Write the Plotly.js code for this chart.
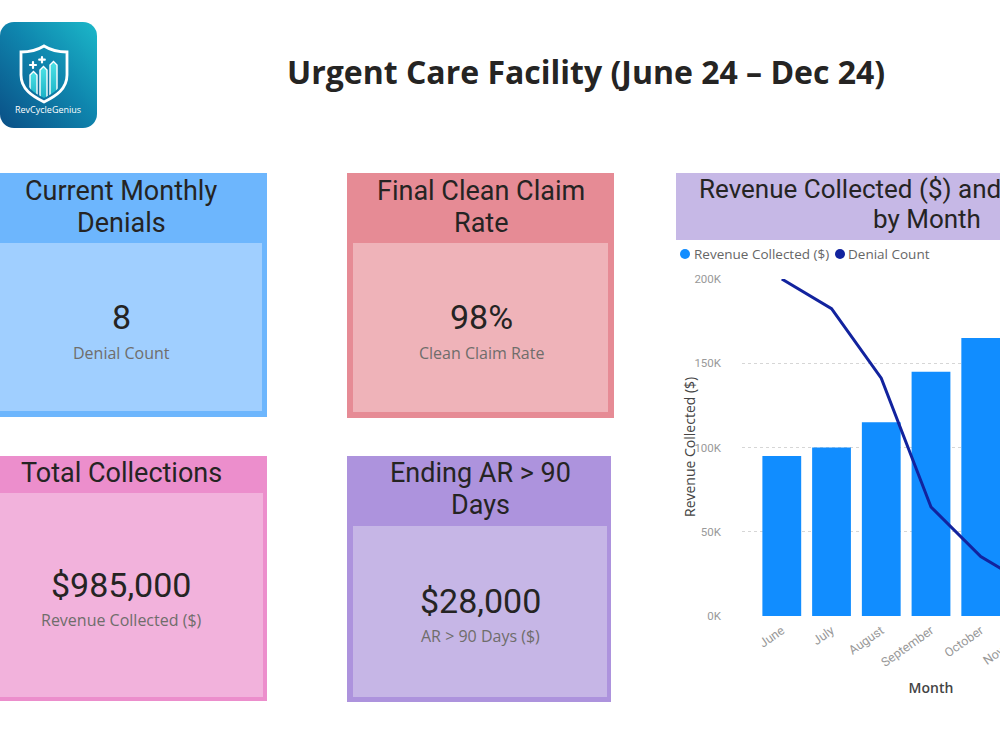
<!DOCTYPE html>
<html>
<head>
<meta charset="utf-8">
<script src="https://cdn.plot.ly/plotly-3.0.1.min.js"></script>
<style>
  html, body { margin: 0; padding: 0; overflow: hidden; background: #ffffff; }
  #dash { width: 1200px; height: 751px; }
</style>
</head>
<body>
<div id="dash"></div>
<script>
// Monthly data, June – December 2024
const months = ['June', 'July', 'August', 'September', 'October', 'November', 'December'];
const revenueCollected = [95000, 100000, 115000, 145000, 165000, 180000, 185000];
const denialCount = [42, 39, 32, 19, 14, 11, 8];

// Revenue axis ticks
const revenueTicks = [0, 50000, 100000, 150000, 200000];
const revenueTickLabels = ['0K', '50K', '100K', '150K', '200K'];

// KPI card figures
const cleanClaimRate = 98;
const arOver90Days = 28000;

const W = 1200, H = 751;
const X = px => px / W;
const Y = py => 1 - py / H;

const money = v => '$' + v.toLocaleString('en-US');
const totalCollections = revenueCollected.reduce((a, b) => a + b, 0);
const currentDenials = denialCount[denialCount.length - 1];

const TXT = '#252423';
const SUB = '#6f6d6b';
const DIN = 'Roboto, "DejaVu Sans", sans-serif';
const SANS = '"Open Sans", sans-serif';
const BAR_BLUE = '#118DFF';
const LINE_NAVY = '#12239E';

// KPI cards: outer frame (header colour) + lighter body panel
const cards = [
  { title: ['Current Monthly', 'Denials'], value: String(currentDenials), label: 'Denial Count',
    head: '#6DB6FD', body: '#A0CFFF',
    outer: [-10, 173, 267, 417], inner: [-5, 243, 262, 411],
    cx: 121, titleY: 191, valueY: 317, labelY: 353 },
  { title: ['Final Clean Claim', 'Rate'], value: cleanClaimRate + '%', label: 'Clean Claim Rate',
    head: '#E68B95', body: '#EFB3B9',
    outer: [347, 173, 614, 418], inner: [353, 243, 608, 412],
    cx: 481, titleY: 191, valueY: 317, labelY: 353 },
  { title: ['Total Collections'], value: money(totalCollections), label: 'Revenue Collected ($)',
    head: '#EC8ECC', body: '#F2B2DC',
    outer: [-10, 456, 267, 701], inner: [-5, 493, 263, 697],
    cx: 121, titleY: 473, valueY: 585, labelY: 620 },
  { title: ['Ending AR &gt; 90', 'Days'], value: money(arOver90Days), label: 'AR &gt; 90 Days ($)',
    head: '#AD93DD', body: '#C6B6E6',
    outer: [347, 456, 611, 702], inner: [353, 526, 607, 697],
    cx: 480, titleY: 473, valueY: 601, labelY: 636 }
];

const shapes = [];
const annotations = [];

function rect(b, color) {
  shapes.push({ type: 'rect', xref: 'paper', yref: 'paper', layer: 'below',
    x0: X(b[0]), x1: X(b[2]), y0: Y(b[3]), y1: Y(b[1]),
    fillcolor: color, line: { width: 0 } });
}
function label(text, x, y, font, extra) {
  annotations.push(Object.assign({ xref: 'paper', yref: 'paper', x: X(x), y: Y(y),
    text: text, showarrow: false, xanchor: 'center', yanchor: 'middle',
    font: font }, extra || {}));
}
function dot(x, y, color) {
  shapes.push({ type: 'circle', xref: 'paper', yref: 'paper',
    x0: X(x - 5), x1: X(x + 5), y0: Y(y + 5), y1: Y(y - 5),
    fillcolor: color, line: { width: 0 } });
}

cards.forEach(c => {
  rect(c.outer, c.head);
  rect(c.inner, c.body);
  c.title.forEach((t, i) =>
    label(t, c.cx, c.titleY + i * 31.5, { size: 27, color: TXT, family: DIN }));
  label(c.value, c.cx, c.valueY, { size: 34, color: TXT, family: DIN });
  label(c.label, c.cx, c.labelY, { size: 16, color: SUB, family: SANS });
});

// Chart header band
rect([676, 173, 1180, 240], '#C6B8E6');
label('Revenue Collected ($) and Denial Count', 927, 189, { size: 26, color: TXT, family: DIN });
label('by Month', 927, 219, { size: 26, color: TXT, family: DIN });

// Legend
dot(685, 254, BAR_BLUE);
label('Revenue Collected ($)', 694, 254, { size: 13.5, color: '#666666', family: SANS }, { xanchor: 'left', xshift: -2 });
dot(840, 254, LINE_NAVY);
label('Denial Count', 848, 254, { size: 13.5, color: '#666666', family: SANS }, { xanchor: 'left', xshift: -2 });

// Revenue axis title
label('Revenue Collected ($)', 689, 447, { size: 14, color: '#444444', family: SANS }, { textangle: -90 });

// Dashboard title
label('Urgent Care Facility (June 24 – Dec 24)', 586, 72,
  { size: 32, color: TXT, family: SANS, weight: 700 });

// Logo text
label('RevCycleGenius', 48, 110, { size: 9, color: '#ffffff', family: SANS });

// Logo artwork
const logoSvg = `<svg xmlns="http://www.w3.org/2000/svg" width="97" height="106" viewBox="0 0 97 106">
<defs>
<linearGradient id="bg" x1="0" y1="1" x2="1" y2="0">
<stop offset="0" stop-color="#0A4F86"/><stop offset="0.55" stop-color="#0F86AE"/><stop offset="1" stop-color="#1CB8C9"/>
</linearGradient>
<linearGradient id="bar" x1="0" y1="1" x2="0" y2="0">
<stop offset="0" stop-color="#10A8C0"/><stop offset="1" stop-color="#4FE3E6"/>
</linearGradient>
<clipPath id="sh"><path d="M44,29 C37,33 30,34 25,34 L25,53 C25,65 34,71 44,76 C54,71 63,65 63,53 L63,34 C58,34 51,33 44,29 Z"/></clipPath>
</defs>
<rect x="0" y="0" width="97" height="106" rx="14" ry="14" fill="url(#bg)"/>
<path d="M44,24 C36,29 29,30 21,30 L21,53 C21,67 32,74 44,80 C56,74 67,67 67,53 L67,30 C59,30 52,29 44,24 Z" fill="none" stroke="#ffffff" stroke-width="2.8"/>
<g clip-path="url(#sh)">
<path d="M30,53 L33.5,49.5 L37,53 L37,82 L30,82 Z" fill="url(#bar)" stroke="#ffffff" stroke-width="1.4"/>
<path d="M40,48 L43.5,44.5 L47,48 L47,82 L40,82 Z" fill="url(#bar)" stroke="#ffffff" stroke-width="1.4"/>
<path d="M50,43 L53.5,39.5 L57,43 L57,82 L50,82 Z" fill="url(#bar)" stroke="#ffffff" stroke-width="1.4"/>
</g>
<g stroke="#ffffff" stroke-width="2.2" stroke-linecap="round">
<path d="M33,40 L33,46 M30,43 L36,43"/>
<path d="M42,35 L42,40.5 M39.2,37.7 L44.8,37.7"/>
</g>
</svg>`;

const images = [{
  source: 'data:image/svg+xml;base64,' + btoa(logoSvg),
  xref: 'paper', yref: 'paper', x: X(0), y: Y(22), sizex: 97 / W, sizey: 106 / H,
  xanchor: 'left', yanchor: 'top', sizing: 'stretch', layer: 'below'
}];

const bars = {
  type: 'bar', x: months, y: revenueCollected, name: 'Revenue Collected ($)',
  marker: { color: BAR_BLUE }, hoverinfo: 'x+y'
};
const line = {
  type: 'scatter', mode: 'lines', x: months, y: denialCount, name: 'Denial Count',
  yaxis: 'y2', line: { color: LINE_NAVY, width: 3 }
};

const layout = {
  width: W, height: H,
  margin: { l: 0, r: 0, t: 0, b: 0 },
  paper_bgcolor: '#ffffff', plot_bgcolor: 'rgba(0,0,0,0)',
  showlegend: false,
  bargap: 0.22,
  xaxis: {
    domain: [X(742), X(1120)],
    range: [-0.8, 6.8],
    tickangle: -35,
    tickfont: { size: 12.5, color: '#999999', family: DIN },
    ticklabelstandoff: 4,
    showgrid: false, zeroline: false, showline: false, ticks: '',
    title: { text: 'Month', standoff: 14, font: { size: 14, color: '#444444', family: SANS, weight: 600 } },
    fixedrange: true
  },
  yaxis: {
    domain: [Y(616), Y(279)],
    range: [0, 200000],
    tickvals: revenueTicks, ticktext: revenueTickLabels,
    tickfont: { size: 11.5, color: '#999999', family: DIN },
    ticklabelstandoff: 20,
    showgrid: true, gridcolor: '#d6d6d6', griddash: 'dot', gridwidth: 1,
    zeroline: false, showline: false, ticks: '',
    fixedrange: true
  },
  yaxis2: {
    overlaying: 'y', side: 'right', range: [8, 42],
    visible: false, showgrid: false, zeroline: false, fixedrange: true
  },
  shapes: shapes,
  annotations: annotations,
  images: images
};

Plotly.newPlot('dash', [bars, line], layout, { displayModeBar: false, staticPlot: true });
</script>
</body>
</html>
